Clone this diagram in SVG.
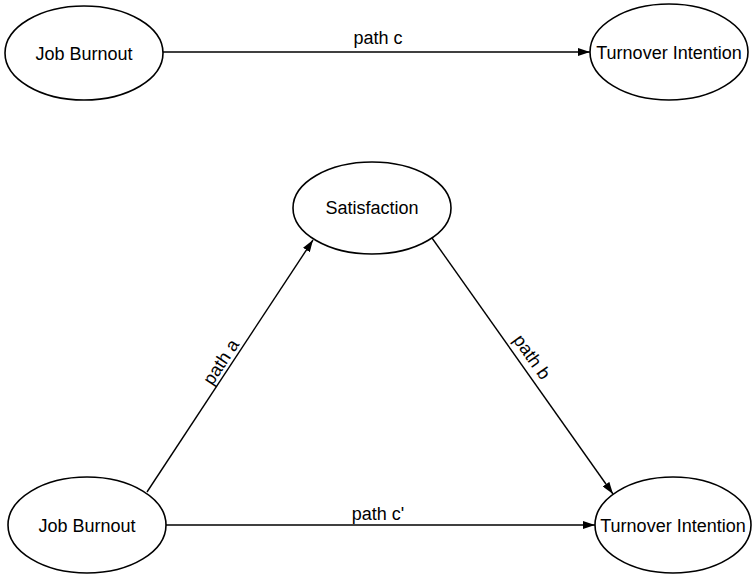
<svg xmlns="http://www.w3.org/2000/svg" width="756" height="576" viewBox="0 0 756 576">
<style>
.node ellipse{fill:#fff;stroke:#000;stroke-width:1.6}
text{font-family:"Liberation Sans",Arial,sans-serif;font-size:18px;fill:#000;text-anchor:middle}
.edge{stroke:#000;stroke-width:1.4;fill:none;marker-end:url(#ah)}
</style>
<defs>
<marker id="ah" viewBox="0 0 12 8" refX="12" refY="4" markerWidth="12" markerHeight="8" markerUnits="userSpaceOnUse" orient="auto">
<path d="M0,0 L12,4 L0,8 z" fill="#000"/>
</marker>
</defs>
<rect width="756" height="576" fill="#fff"/>
<g id="connectors">
<line class="edge" x1="163" y1="52" x2="590" y2="52"/>
<line class="edge" x1="166" y1="525" x2="595" y2="525"/>
<line class="edge" x1="147" y1="492" x2="313" y2="240"/>
<line class="edge" x1="432" y1="238" x2="613" y2="494"/>
<text x="378" y="44">path c</text>
<text x="378" y="520">path c'</text>
<text transform="translate(221,362) rotate(-56.6)" y="6">path a</text>
<text transform="translate(532,357) rotate(54.6)" y="6">path b</text>
</g>
<g id="jb1" class="node"><ellipse cx="84" cy="53" rx="79" ry="47"/><text x="84" y="60">Job Burnout</text></g>
<g id="ti1" class="node"><ellipse cx="669" cy="52" rx="79" ry="48"/><text x="669" y="59">Turnover Intention</text></g>
<g id="sat" class="node"><ellipse cx="372" cy="208" rx="79" ry="46"/><text x="372" y="214">Satisfaction</text></g>
<g id="jb2" class="node"><ellipse cx="87" cy="525" rx="79" ry="48"/><text x="87" y="532">Job Burnout</text></g>
<g id="ti2" class="node"><ellipse cx="673" cy="525" rx="78" ry="48"/><text x="673" y="532">Turnover Intention</text></g>
</svg>
